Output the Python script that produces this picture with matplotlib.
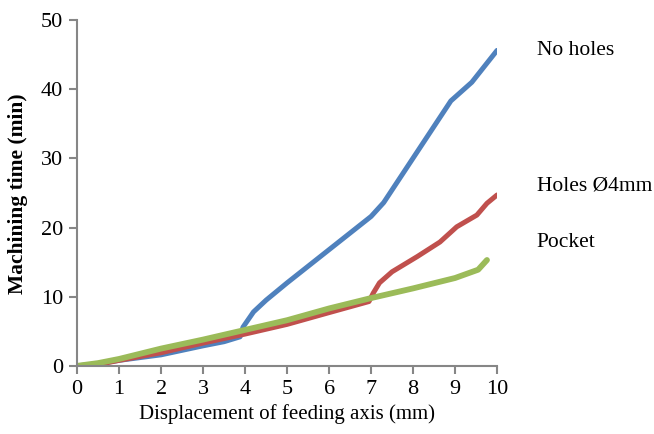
import numpy as np
import matplotlib.pyplot as plt

# datos
x_noholes = [0, 0.5, 1, 2, 3, 3.5, 3.88, 3.95, 4.2, 4.5, 5, 6, 7, 7.3, 8.9, 9.4, 10]
y_noholes = [0, 0.3, 0.8, 1.6, 2.9, 3.5, 4.2, 5.6, 7.8, 9.5, 12.0, 16.8, 21.6, 23.6, 38.3, 41.0, 45.6]

x_holes = [0, 0.5, 1, 2, 3, 4, 5, 6, 6.95, 7.05, 7.2, 7.5, 8.1, 8.64, 9.04, 9.52, 9.76, 10]
y_holes = [0, 0.2, 0.8, 1.9, 3.3, 4.6, 6.0, 7.7, 9.3, 10.5, 12.0, 13.6, 15.8, 17.9, 20.1, 21.8, 23.5, 24.7]

x_pocket = [0, 0.5, 1, 2, 3, 4, 5, 6, 7, 8, 9, 9.55, 9.76]
y_pocket = [0, 0.4, 1.0, 2.5, 3.8, 5.2, 6.6, 8.3, 9.8, 11.2, 12.7, 13.9, 15.3]

labels = ["No holes", "Holes \u00d84mm", "Pocket"]
label_y = [45.6, 26.0, 17.8]

colors = ['#4F81BD', '#C0504D', '#9BBB59']

plt.rcParams['font.family'] = ['Liberation Serif', 'DejaVu Serif']

fig = plt.figure(figsize=(6.54, 4.34), dpi=100)
ax = fig.add_axes([0.118, 0.157, 0.642, 0.797])

ax.plot(x_noholes, y_noholes, color=colors[0], lw=3.6, solid_capstyle='round')
ax.plot(x_holes, y_holes, color=colors[1], lw=3.6, solid_capstyle='round')
ax.plot(x_pocket, y_pocket, color=colors[2], lw=4.2, solid_capstyle='round')

for lab, yy in zip(labels, label_y):
    ax.text(10.95, yy, lab, fontsize=15.5, va='center', ha='left', clip_on=False)

ax.set_xlim(0, 10)
ax.set_ylim(0, 50)
ax.set_xticks(range(0, 11))
ax.set_yticks(range(0, 51, 10))

for s in ['top', 'right']:
    ax.spines[s].set_visible(False)
for s in ['left', 'bottom']:
    ax.spines[s].set_color('#868686')
    ax.spines[s].set_linewidth(1.5)
ax.tick_params(direction='out', length=6, width=1.5, color='#868686', labelsize=16, pad=4)

ax.set_xlabel('Displacement of feeding axis (mm)', fontsize=15)
ax.set_ylabel('Machining time (min)', fontsize=15.5, fontweight='bold')
ax.xaxis.set_label_coords(0.5, -0.11)
ax.yaxis.set_label_coords(-0.117, 0.497)

fig.savefig('out.png', dpi=100)
